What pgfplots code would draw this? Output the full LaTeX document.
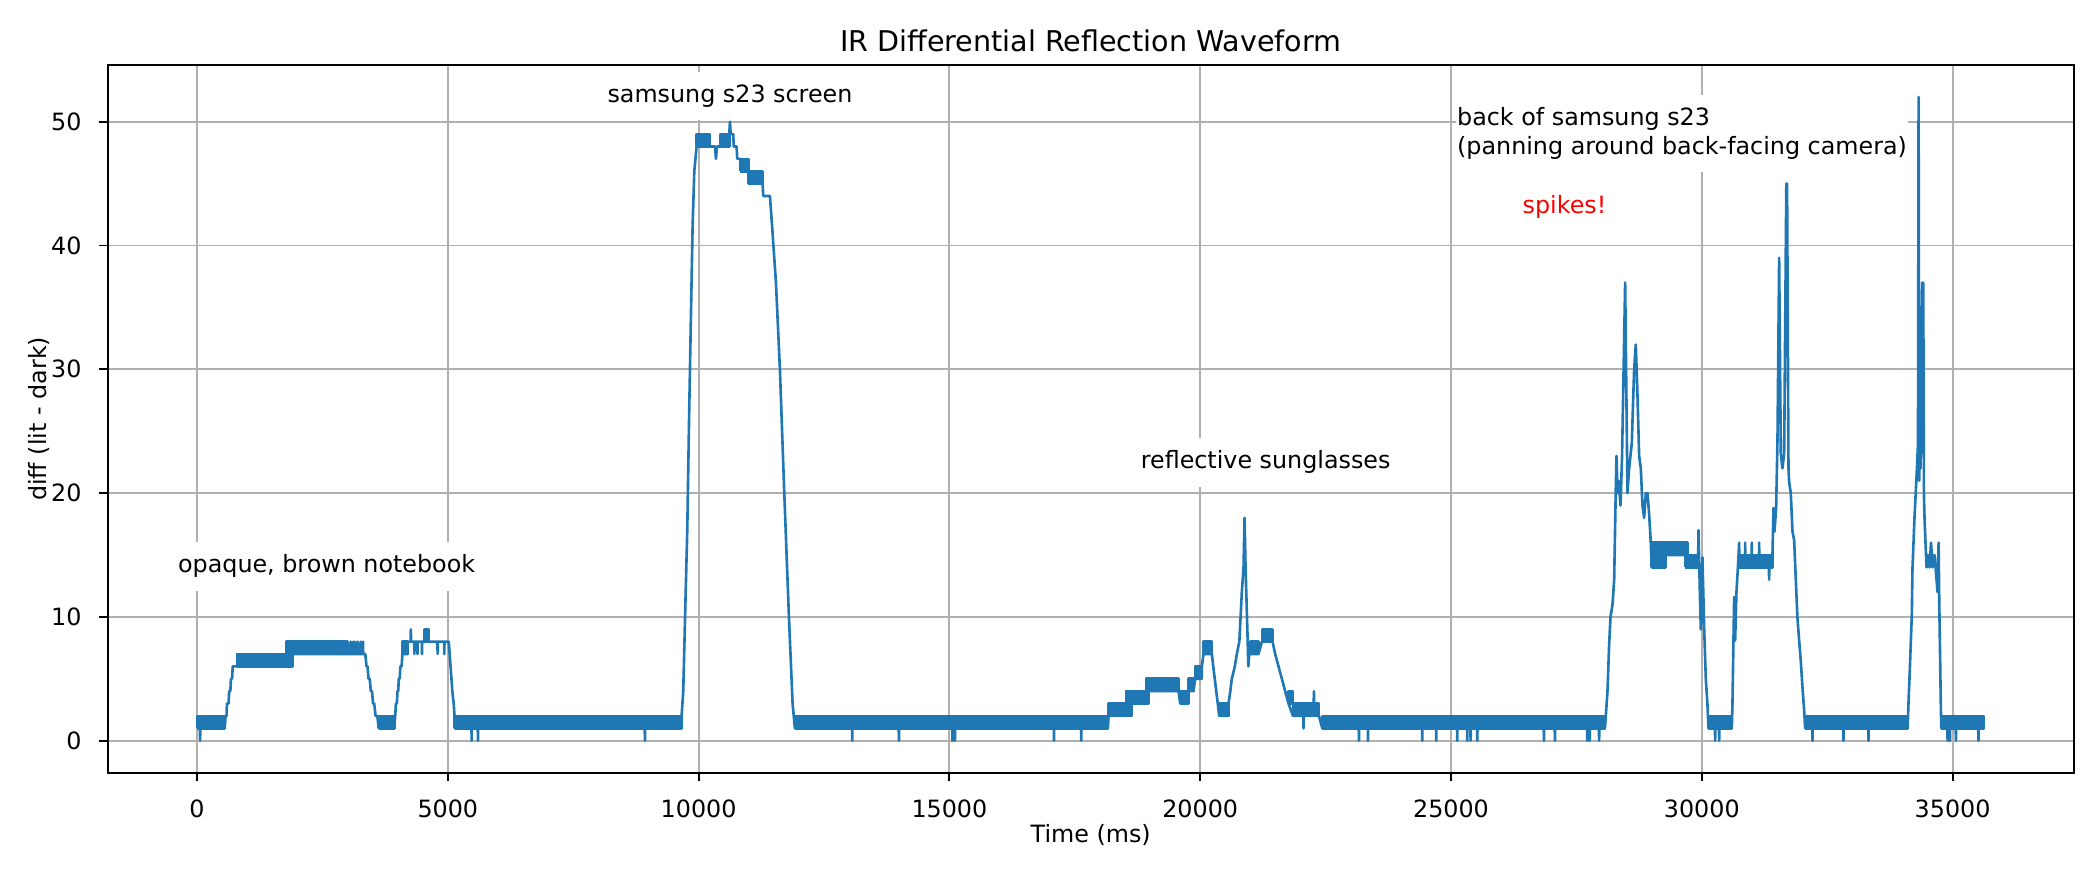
\documentclass[border=0pt]{standalone}
\usepackage{fontspec}
\setmainfont{DejaVu Sans}
\usepackage{pgfplots}
\pgfplotsset{compat=1.18}
\definecolor{c0}{HTML}{1F77B4}
\definecolor{gridgray}{HTML}{B0B0B0}
% dense noise band (signal toggling between two levels) drawn as a filled area
\newcommand\band[4]{\addplot[draw=c0, fill=c0, line width=1.1pt, line join=round, forget plot] coordinates {(#1,#3) (#2,#3) (#2,#4) (#1,#4) (#1,#3)};}
\begin{document}
\begin{tikzpicture}
\path[use as bounding box] (-45.2pt,-43.0pt) rectangle (836.8pt,324.6pt);
\begin{axis}[
  at={(0pt,0pt)}, anchor=south west,
  width=825.8pt, height=297.4pt, scale only axis,
  xmin=-1782, xmax=37417, ymin=-2.6, ymax=54.6,
  xtick={0,5000,...,35000}, ytick={0,10,...,50},
  scaled x ticks=false,
  /pgf/number format/1000 sep={},
  /pgf/number format/assume math mode=true,
  grid=major, grid style={color=gridgray, line width=0.8pt},
  axis line style={line width=0.8pt},
  tick style={black, line width=0.8pt}, major tick length=3.5pt, tick align=outside,
  xtick pos=left, ytick pos=left,
  xticklabel style={anchor=base, inner sep=0pt, yshift=-15.2pt},
  yticklabel style={anchor=east, inner sep=0pt, xshift=-7.3pt},
  title={IR Differential Reflection Waveform},
  every axis title/.style={at={(axis description cs:0.5,1.0193)}, anchor=base, inner sep=0pt, font=\fontsize{12}{14}\selectfont},
  xlabel={Time (ms)},
  xlabel style={at={(axis description cs:0.5,-0.0989)}, anchor=base, inner sep=0pt},
  ylabel={diff (lit - dark)},
  ylabel style={at={(axis description cs:-0.0310,0.5)}, anchor=base, inner sep=0pt},
]
% ---- notebook ----
\band{0}{552}{1}{2}
\band{801}{1904}{6}{7}
\band{1780}{3000}{7}{8}
\band{3622}{3933}{1}{2}
\band{4094}{4200}{7}{8}
\band{4539}{4628}{8}{9}
\band{5135}{9661}{1}{2}
% ---- samsung screen ----
\band{9960}{10226}{48}{49}
\band{10439}{10611}{48}{49}
\band{10824}{10990}{46}{47}
\band{10990}{11276}{45}{46}
\band{11920}{18159}{1}{2}
% ---- sunglasses ----
\band{18173}{18638}{2}{3}
\band{18518}{18970}{3}{4}
\band{18917}{19568}{4}{5}
\band{19601}{19767}{3}{4}
\band{19767}{19867}{4}{5}
\band{19900}{20033}{5}{6}
\band{20066}{20233}{7}{8}
\band{20379}{20565}{2}{3}
\band{20997}{21163}{7}{8}
\band{21229}{21442}{8}{9}
\band{21761}{21850}{3}{4}
\band{21850}{22367}{2}{3}
\band{22434}{28068}{1}{2}
% ---- back of phone ----
\band{29003}{29282}{14}{16}
\band{29269}{29714}{15}{16}
\band{29668}{29934}{14}{15}
\band{30133}{30598}{1}{2}
\band{30744}{31409}{14}{15}
\band{32060}{34103}{1}{2}
\band{34767}{35628}{1}{2}
\addplot[c0, line width=1.1pt, line join=round] coordinates {
(0,1)(58,1)(62,0)(66,1)(552,1)(570,2)(590,2)(596,3)(630,3)(641,4)(665,4)(676,5)(700,5)(712,6)(801,6)
(1780,6)(1780,7)(3000,7)(3058,7)(3062,8)(3066,7)(3111,7)(3115,8)(3119,7)(3146,7)(3150,8)(3154,7)
(3200,7)(3204,8)(3208,7)(3262,7)(3266,8)(3270,7)(3306,7)(3310,8)(3314,7)(3355,7)
(3380,6)(3400,6)(3420,5)(3444,5)(3465,4)(3489,4)(3510,3)(3533,3)(3560,2)(3595,2)(3622,1)
(3933,1)(3951,2)(3965,3)(3985,3)(3996,4)(4012,4)(4022,5)(4040,5)(4055,6)(4080,6)(4094,7)
(4200,7)(4200,8)(4258,8)(4263,9)(4268,8)(4330,8)(4334,7)(4338,8)(4393,8)(4397,7)(4401,8)
(4482,8)(4486,7)(4490,8)(4539,8)(4628,8)(4793,8)(4797,7)(4801,8)(4926,8)(4930,7)(4934,8)(5019,8)
(5037,7)(5055,6)(5073,5)(5090,4)(5117,3)(5135,2)(5140,1)
(5472,1)(5476,0)(5480,1)(5597,1)(5601,0)(5605,1)(8926,1)(8930,0)(8934,1)(9661,1)
(9661,2)(9694,4)(9730,10)(9774,17)(9810,26)(9841,33)(9880,41.5)(9914,46)(9960,48)
(10326,48)(10346,47)(10366,48)(10439,48)(10611,49)(10625,50)(10640,49)(10691,49)(10700,48)(10758,48)
(10770,47)(10824,47)(10990,46)(11276,45)(11289,44)(11422,44)(11440,43)(11475,41)(11542,37)
(11621,30)(11708,20)(11801,10)(11874,3)(11920,1)
(13059,1)(13063,0)(13067,1)(13990,1)(13994,0)(13998,1)(15056,1)(15060,0)(15064,1)
(15106,1)(15110,0)(15114,1)(17081,1)(17085,0)(17089,1)(17624,1)(17628,0)(17632,1)(18159,1)
(18173,2)(18518,3)(18917,4)(19568,4)(19601,3)(19767,3)(19767,4)(19867,4)(19900,5)(20033,5)
(20033,6)(20066,7)(20233,7)(20260,6)(20290,5)(20320,4)(20350,3)(20379,2)(20565,2)(20565,3)
(20600,4)(20630,5)(20690,6)(20730,7)(20780,8)(20830,12)(20864,14)(20884,18)(20904,14)(20940,9)
(20960,6)(20977,7)(21163,7)(21229,8)(21442,8)(21495,7)(21561,6)(21628,5)(21694,4)(21761,3)
(21850,2)(22056,2)(22060,1)(22064,2)(22263,3)(22267,4)(22271,3)(22367,2)(22434,1)
(23161,1)(23165,0)(23169,1)(23341,1)(23345,0)(23349,1)(24423,1)(24427,0)(24431,1)
(24702,1)(24706,0)(24710,1)(25120,1)(25124,0)(25128,1)(25320,1)(25324,0)(25328,1)
(25387,1)(25391,0)(25395,1)(25520,1)(25524,0)(25528,1)(26849,1)(26853,0)(26857,1)
(27068,1)(27072,0)(27076,1)(27712,1)(27716,0)(27720,1)(27760,1)(27764,0)(27768,1)
(27949,1)(27953,0)(27957,1)(28068,1)
(28086,2)(28120,4)(28153,7.8)(28180,10)(28220,11)(28253,13)(28288,21)(28300,23)(28320,20)
(28340,21)(28380,19)(28410,23)(28472,37)(28518,20)(28551,22)(28604,24)(28651,30)(28684,32)
(28717,28)(28751,23)(28784,22)(28817,19)(28850,18)(28884,20)(28917,20)(28950,18.3)(28983,16)
(29003,14)(29282,15)(29700,15)(29700,14)(29925,14)(29934,17)(29965,11.3)(29980,9)(30013,14.8)
(30046,9.2)(30080,5)(30113,2.9)(30133,1)
(30262,1)(30266,0)(30270,1)(30342,1)(30346,0)(30350,1)(30598,1)
(30611,2.9)(30645,11.6)(30665,8.1)(30691,12)(30731,14.8)(30744,16)(30750,14)
(30860,14)(30864,16)(30868,14)(30993,14)(30997,16)(31001,14)(31139,14)(31143,16)(31147,14)
(31338,14)(31342,13)(31346,14)(31409,15)
(31429,18.8)(31449,16.9)(31482,18.8)(31509,24.3)(31542,39)(31575,23.2)(31608,22)(31642,23.2)
(31685,45)(31694,40)(31700,45)(31728,22)(31741,20.9)(31774,20)(31808,16.9)(31841,16.2)
(31874,13)(31907,9.9)(31941,8.1)(31974,6.4)(32007,4.3)(32040,2.5)(32060,1)
(32202,1)(32206,0)(32210,1)(32820,1)(32824,0)(32828,1)(33319,1)(33323,0)(33327,1)(34103,1)
(34120,3)(34147,5.7)(34187,10.2)(34200,13.9)(34240,18)(34290,22.1)(34310,24)(34322,52)
(34334,21)(34350,30)(34362,22)(34378,33)(34393,37)(34405,25)(34415,37)(34428,20)(34440,18)
(34460,16)(34480,14)(34510,15)(34540,14)(34570,16)(34600,14)(34640,15)(34680,13)(34700,12)
(34721,16)(34734,11.2)(34767,2.4)(34775,1)
(34896,1)(34900,0)(34904,1)(34943,1)(34947,0)(34951,1)(35062,1)(35066,0)(35070,1)
(35511,1)(35515,0)(35519,1)(35628,1)
};
% ---- annotations ----
\node[fill=white, inner xsep=0.5pt, inner ysep=5.15pt, text height=7.6pt, text depth=2.4pt]
  at (axis cs:2584,14.07) {opaque, brown notebook};
\node[fill=white, inner xsep=0.5pt, inner ysep=5.15pt, text height=7.6pt, text depth=2.4pt]
  at (axis cs:10625,52.05) {samsung s23 screen};
\node[fill=white, inner xsep=0.5pt, inner ysep=5.15pt, text height=7.6pt, text depth=2.4pt]
  at (axis cs:21305,22.48) {reflective sunglasses};
\node[fill=white, inner xsep=0.5pt, inner ysep=5.1pt, align=left, anchor=west,
  font=\fontsize{10}{12.35}\selectfont]
  at (axis cs:25090,49.04) {back of samsung s23\\(panning around back-facing camera)};
\node[text=red, inner sep=0pt] at (axis cs:27263,43.12) {spikes!};
\end{axis}
\end{tikzpicture}
\end{document}
